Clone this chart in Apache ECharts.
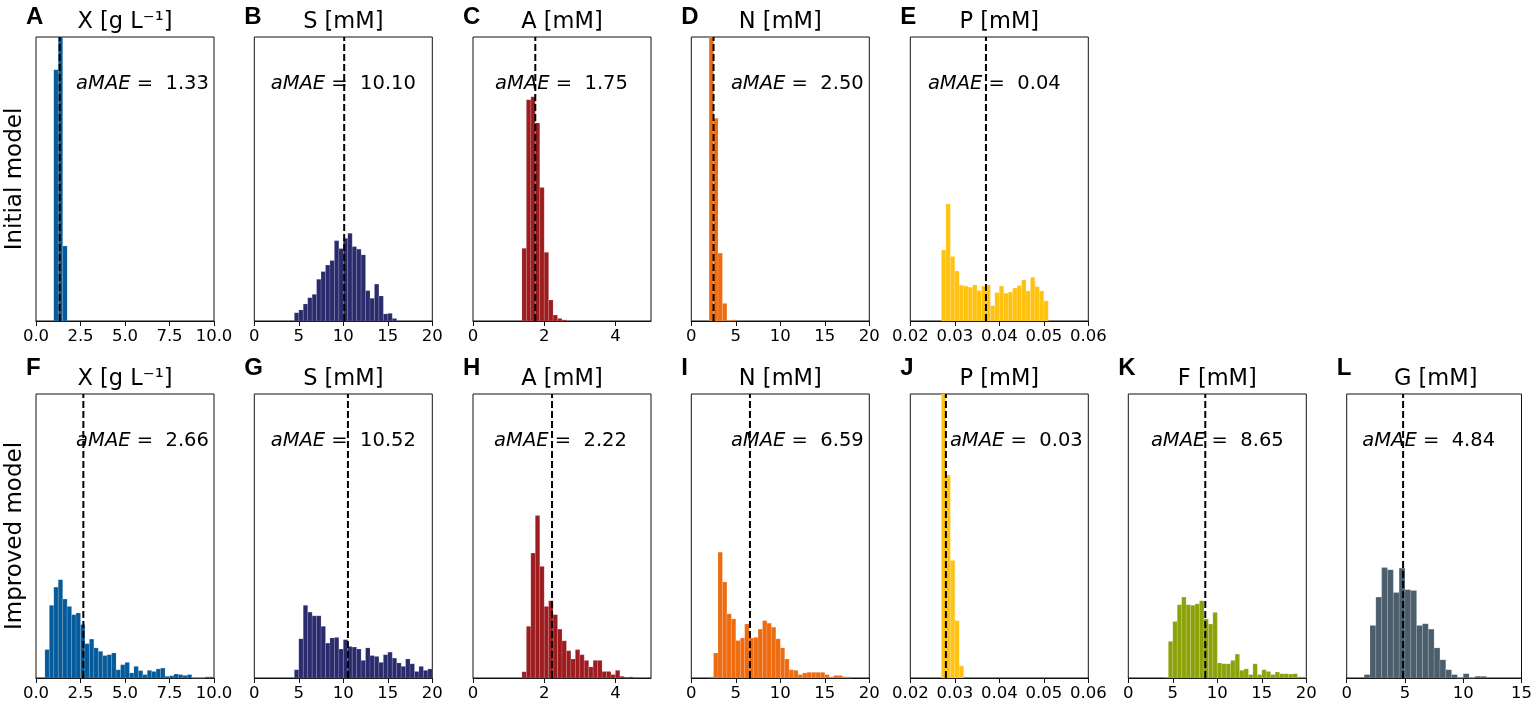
<!DOCTYPE html>
<html>
<head>
<meta charset="UTF-8">
<title>aMAE histograms</title>
<style>
    html, body { margin: 0; padding: 0; background: #fff; }
    #main { width: 1535px; height: 702px; }
</style>
</head>
<body>
<div id="main"></div>
<script src="https://cdn.jsdelivr.net/npm/echarts@6.0.0/dist/echarts.min.js"></script>
<script>
// panels A-E = initial model, F-L = improved model
var panelLetters = ['A', 'B', 'C', 'D', 'E', 'F', 'G', 'H', 'I', 'J', 'K', 'L'];
var panelTitles = ['X [g L⁻¹]', 'S [mM]', 'A [mM]', 'N [mM]', 'P [mM]',
                   'X [g L⁻¹]', 'S [mM]', 'A [mM]', 'N [mM]', 'P [mM]', 'F [mM]', 'G [mM]'];
var aMAELabels = ['1.33', '10.10', '1.75', '2.50', '0.04',
                  '2.66', '10.52', '2.22', '6.59', '0.03', '8.65', '4.84'];
var aMAELines = [1.33, 10.10, 1.75, 2.50, 0.037, 2.66, 10.52, 2.22, 6.59, 0.028, 8.65, 4.84];

// histogram bins: first edge, bin width, relative heights
var binStarts = [1.0, 4.5, 1.375, 2.0, 0.027, 0.5, 4.5, 1.375, 2.0, 0.027, 4.0, 1.5];
var binWidths = [0.25, 0.5, 0.125, 0.5, 0.001, 0.25, 0.5, 0.125, 0.5, 0.001, 0.5, 0.5];

var xInitial = [88.5, 135, 26.4];
var sInitial = [2.9, 3.9, 6.0, 8.2, 9.4, 14.7, 17.4, 19.7, 21.3, 28.3, 25.5, 29.1, 30.9, 26.2,
                25.3, 23.3, 10.7, 8.0, 13.0, 8.8, 2.5, 2.7, 0.9];
var aInitial = [25.6, 77.9, 79.0, 69.7, 47.0, 24.2, 7.4, 2.1, 0.9, 0.4];
var nInitial = [130, 71.4, 23.9, 6.2, 0, 0.4];
var pInitial = [25.0, 41.2, 22.7, 17.6, 12.6, 12.3, 11.9, 12.7, 10.7, 12.3, 12.7, 5.4, 10.0, 12.3,
                9.8, 10.2, 11.6, 12.5, 14.5, 10.6, 15.4, 12.1, 10.6, 7.1];

var xImproved = [10.0, 25.6, 32.0, 34.6, 27.8, 25.2, 22.3, 22.9, 18.8, 12.1, 13.7, 10.6, 9.4, 7.9,
                 8.2, 8.8, 2.9, 4.7, 5.5, 1.8, 4.1, 2.6, 1.2, 2.7, 2.3, 3.2, 3.5, 0.6, 0.8, 1.4,
                 1.2, 0.9, 1.2, 0, 0, 0, 0.4, 0.4];
var sImproved = [2.9, 13.8, 25.6, 23.2, 21.9, 21.9, 18.2, 12.3, 14.1, 14.3, 10.2, 13.5, 11.1, 10.9,
                 10.2, 6.2, 10.6, 7.9, 7.6, 5.5, 8.2, 9.1, 7.0, 5.3, 4.1, 6.7, 5.0, 2.3, 4.1, 2.7, 3.2];
var aImproved = [2.2, 18.2, 44.0, 57.2, 39.3, 25.2, 27.2, 22.3, 17.2, 13.1, 9.6, 6.7, 10.0, 8.2,
                 6.2, 3.9, 6.2, 6.2, 2.3, 2.3, 1.2, 2.7, 0.6, 0.3, 0.4, 0.2];
var nImproved = [0.4, 8.8, 44.3, 33.8, 22.6, 20.8, 13.2, 14.1, 19.0, 14.1, 14.3, 17.2, 20.2, 19.3,
                 17.9, 13.8, 10.6, 6.7, 2.9, 2.7, 1.2, 1.8, 2.0, 2.0, 2.0, 2.0, 1.2, 0.4, 0.9, 0.9, 0.4, 0.4];
var pImproved = [135, 71.5, 41.4, 20.2, 4.3];
var fImproved = [0.3, 12.9, 19.9, 25.8, 28.5, 25.8, 25.6, 26.1, 27.2, 20.8, 19.0, 23.1, 5.3, 5.0,
                 5.0, 6.2, 8.4, 2.7, 3.2, 1.2, 5.0, 1.2, 2.9, 2.3, 1.2, 2.1, 1.5, 1.5, 1.4, 1.5, 0.4, 0.4];
var gImproved = [1.2, 18.5, 28.5, 38.9, 38.1, 30.1, 38.7, 31.1, 30.8, 18.5, 19.1, 17.2, 10.6, 6.4,
                 2.9, 1.2, 0, 1.5, 0, 0.6, 0.6];

var heights = [xInitial, sInitial, aInitial, nInitial, pInitial,
               xImproved, sImproved, aImproved, nImproved, pImproved, fImproved, gImproved];

// x axis ranges and tick steps
var axisMin = [0, 0, 0, 0, 0.02, 0, 0, 0, 0, 0.02, 0, 0];
var axisMax = [10, 20, 5, 20, 0.06, 10, 20, 5, 20, 0.06, 20, 15];
var axisStep = [2.5, 5, 2, 5, 0.01, 2.5, 5, 2, 5, 0.01, 5, 5];
var axisDecimals = [1, 0, 0, 0, 2, 1, 0, 0, 0, 2, 0, 0];

var colors = ['#045a9a', '#2a2b6d', '#9d1c20', '#ee6b10', '#ffc20e',
              '#045a9a', '#2a2b6d', '#9d1c20', '#ee6b10', '#ffc20e', '#8ca20b', '#4a5e6c'];

// layout
var colLefts = [36, 254.3, 473, 691.3, 910.3, 1128.3, 1346.7];
var rowTops = [37, 394];
var plotW = 178, plotH = 284;
var labelCenters = [106.5, 89, 88.5, 106, 84, 106.5, 89, 87.5, 106, 106, 89, 82];
var letterY = [17, 368];

var chart = echarts.init(document.getElementById('main'));

function makeBinRenderer(color) {
    return function (params, api) {
        var lo = api.coord([api.value(0), 0]);
        var hi = api.coord([api.value(1), api.value(2)]);
        var cs = params.coordSys;
        var shape = echarts.graphic.clipRectByRect(
            {x: lo[0], y: hi[1], width: hi[0] - lo[0], height: lo[1] - hi[1]},
            {x: cs.x, y: cs.y, width: cs.width, height: cs.height});
        if (!shape) return null;
        return {
            type: 'rect',
            shape: shape,
            style: {fill: color, stroke: 'rgba(255,255,255,0.22)', lineWidth: 0.6}
        };
    };
}

function makeFormatter(d) {
    return function (v) { return Number(v).toFixed(d); };
}

var grids = [], xAxes = [], yAxes = [], series = [], texts = [];

for (var i = 0; i < 12; i++) {
    var row = i < 5 ? 0 : 1;
    var col = i < 5 ? i : i - 5;
    var pLeft = colLefts[col], pTop = rowTops[row];

    grids.push({
        left: pLeft, top: pTop, width: plotW, height: plotH,
        show: true, borderColor: '#111', borderWidth: 1
    });

    xAxes.push({
        type: 'value', gridIndex: i,
        min: axisMin[i], max: axisMax[i], interval: axisStep[i],
        axisLine: {show: true, lineStyle: {color: '#111', width: 1}},
        axisTick: {show: true, length: 5, lineStyle: {color: '#111', width: 1}},
        splitLine: {show: false},
        axisLabel: {
            color: '#000', fontSize: 16.5, fontFamily: 'DejaVu Sans', margin: 7,
            showMaxLabel: axisStep[i] !== 2,
            formatter: makeFormatter(axisDecimals[i])
        }
    });

    yAxes.push({
        type: 'value', gridIndex: i, min: 0, max: 100,
        axisLine: {show: false}, axisTick: {show: false},
        axisLabel: {show: false}, splitLine: {show: false}
    });

    var data = [];
    for (var k = 0; k < heights[i].length; k++) {
        data.push([binStarts[i] + k * binWidths[i], binStarts[i] + (k + 1) * binWidths[i], heights[i][k]]);
    }

    series.push({
        type: 'custom',
        xAxisIndex: i, yAxisIndex: i,
        renderItem: makeBinRenderer(colors[i]),
        encode: {x: [0, 1], y: 2},
        data: data
    });

    // dashed aMAE line across the full panel height
    series.push({
        type: 'line',
        xAxisIndex: i, yAxisIndex: i,
        symbol: 'none',
        silent: true,
        z: 5,
        lineStyle: {color: '#000', width: 2, type: [7, 3]},
        data: [[aMAELines[i], 0], [aMAELines[i], 100]]
    });

    texts.push({
        type: 'text', x: pLeft - 10, y: letterY[row],
        style: {text: panelLetters[i], font: 'bold 24px "Liberation Sans"', fill: '#000',
                align: 'left', verticalAlign: 'middle'}
    });
    texts.push({
        type: 'text', x: pLeft + plotW / 2, y: pTop - 14.5,
        style: {text: panelTitles[i], font: '22.5px "DejaVu Sans"', fill: '#000',
                align: 'center', verticalAlign: 'middle'}
    });
    texts.push({
        type: 'text', x: pLeft + labelCenters[i], y: pTop + 46.5,
        z: 100,
        style: {
            text: '{i|aMAE}{n| =  ' + aMAELabels[i] + '}',
            align: 'center', verticalAlign: 'middle',
            rich: {
                i: {fontFamily: 'DejaVu Sans', fontStyle: 'italic', fontSize: 19.5, fill: '#000'},
                n: {fontFamily: 'DejaVu Sans', fontSize: 19.5, fill: '#000'}
            }
        }
    });
}

// row labels
texts.push({
    type: 'text', x: 15, y: rowTops[0] + plotH / 2, rotation: Math.PI / 2,
    style: {text: 'Initial model', font: '23px "DejaVu Sans"', fill: '#000',
            align: 'center', verticalAlign: 'middle'}
});
texts.push({
    type: 'text', x: 15, y: rowTops[1] + plotH / 2, rotation: Math.PI / 2,
    style: {text: 'Improved model', font: '23px "DejaVu Sans"', fill: '#000',
            align: 'center', verticalAlign: 'middle'}
});

chart.setOption({
    animation: false,
    backgroundColor: '#fff',
    grid: grids,
    xAxis: xAxes,
    yAxis: yAxes,
    series: series,
    graphic: {elements: texts}
});
</script>
</body>
</html>
